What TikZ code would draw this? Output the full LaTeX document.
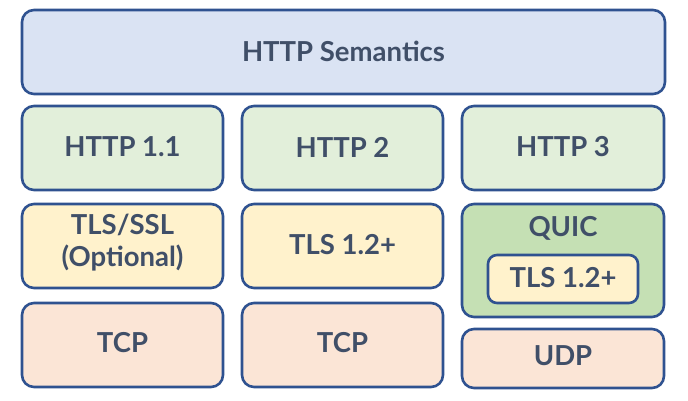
\documentclass[tikz,border=0pt]{standalone}
\usepackage{fontspec}
\setmainfont{Lato}
\definecolor{bordc}{HTML}{2F5290}
\definecolor{txtc}{HTML}{404F68}
\definecolor{fblue}{HTML}{DAE3F3}
\definecolor{fgreen}{HTML}{E2EFDA}
\definecolor{fyellow}{HTML}{FFF2CC}
\definecolor{fpeach}{HTML}{FBE5D6}
\definecolor{fquic}{HTML}{C5E0B4}
\tikzset{
  layer/.style={draw=bordc, line width=2.6pt, rounded corners=12pt},
  lbl/.style={text=txtc, font=\bfseries\fontsize{27.5}{32}\selectfont, align=center}
}
\begin{document}
\begin{tikzpicture}[x=1pt,y=-1pt]
\useasboundingbox (0,0) rectangle (688,401);
% top
\draw[layer, fill=fblue] (22,10) rectangle (665,94);
\node[lbl] (sem) at (343.5,51) {HTTP Semantics};
% row 2
\draw[layer, fill=fgreen] (22,106) rectangle (223,190);
\node[lbl] (h11) at (122.5,147) {HTTP 1.1};
\draw[layer, fill=fgreen] (242,106) rectangle (443,190);
\node[lbl] (h2) at (342.5,147) {HTTP 2};
\draw[layer, fill=fgreen] (462,106) rectangle (664,190);
\node[lbl] (h3) at (563,147) {HTTP 3};
% row 3
\draw[layer, fill=fyellow] (22,204) rectangle (223,288);
\node[lbl] (tls1) at (122.5,243) {TLS/SSL\\(Optional)};
\draw[layer, fill=fyellow] (242,204) rectangle (443,288);
\node[lbl] (tls2) at (342.5,245) {TLS 1.2+};
\draw[layer, fill=fquic] (462,204) rectangle (664,317);
\node[lbl] (quic) at (563,228) {QUIC};
\draw[layer, fill=fyellow, rounded corners=9pt] (488,255) rectangle (638,303);
\node[lbl] (tls3) at (563,278) {TLS 1.2+};
% row 4
\draw[layer, fill=fpeach] (22,303) rectangle (223,387);
\node[lbl] (tcp1) at (122.5,343) {TCP};
\draw[layer, fill=fpeach] (242,303) rectangle (443,387);
\node[lbl] (tcp2) at (342.5,343) {TCP};
\draw[layer, fill=fpeach] (462,329) rectangle (664,388);
\node[lbl] (udp) at (563,356) {UDP};
\end{tikzpicture}
\end{document}
